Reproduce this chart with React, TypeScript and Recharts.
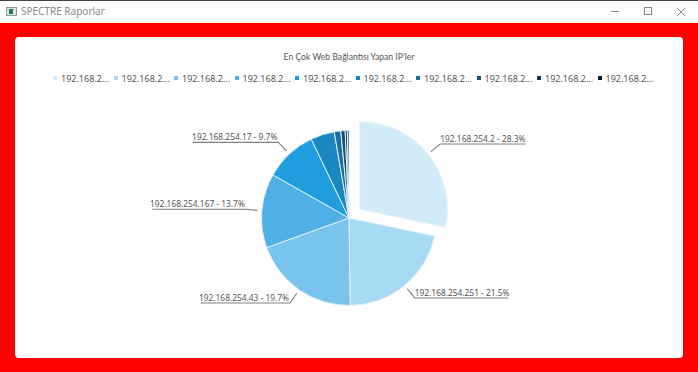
import { Legend, Pie, PieChart, Sector } from "recharts";

const hosts = [
  "192.168.254.2",
  "192.168.254.251",
  "192.168.254.43",
  "192.168.254.167",
  "192.168.254.17",
  "192.168.254.10",
  "192.168.254.25",
  "192.168.254.30",
  "192.168.254.54",
  "192.168.254.71",
];
const shares = [28.3, 21.5, 19.7, 13.7, 9.7, 4.4, 1.2, 0.8, 0.4, 0.3];
const colors = [
  "#d2ebf9",
  "#a6d9f3",
  "#79c4ec",
  "#4fb0e5",
  "#1f9edf",
  "#1b87c0",
  "#166f9f",
  "#105377",
  "#0b3a54",
  "#061c2c",
];

const FONT = "'Noto Sans', sans-serif";
const RAD = Math.PI / 180;
const EXPLODE = 14;

const data = hosts.map((name, i) => ({ name, value: shares[i], fill: colors[i] }));

// first slice is pulled out of the pie along its mid angle
function explodeOffset(index: number, midAngle: number) {
  if (index !== 0) return { dx: 0, dy: 0 };
  return {
    dx: EXPLODE * Math.cos(midAngle * RAD),
    dy: -EXPLODE * Math.sin(midAngle * RAD),
  };
}

function SliceShape(props: any) {
  const { dx, dy } = explodeOffset(props.index, props.midAngle);
  return (
    <Sector
      {...props}
      cx={props.cx + dx}
      cy={props.cy + dy}
      stroke="#e4f2fa"
      strokeWidth={1}
    />
  );
}

function SliceLabel(props: any) {
  const { cx, cy, midAngle, outerRadius, index, name, value } = props;
  // small slices have no label
  if (index > 4) return null;

  const { dx, dy } = explodeOffset(index, midAngle);
  const cos = Math.cos(midAngle * RAD);
  const sin = Math.sin(midAngle * RAD);
  const x1 = cx + dx + (outerRadius + 4) * cos;
  const y1 = cy + dy - (outerRadius + 4) * sin;
  const x2 = cx + dx + (outerRadius + 16) * cos;
  const y2 = cy + dy - (outerRadius + 16) * sin;

  const text = `${name} - ${value}%`;
  const width = text.length * 4.07;
  const right = cos >= 0;
  const x3 = right ? x2 + width : x2 - width;

  return (
    <g>
      <path
        d={`M${x1},${y1} L${x2},${y2} L${x3},${y2}`}
        fill="none"
        stroke="#808080"
        strokeWidth={1.1}
      />
      <text
        x={x2 + (right ? 0 : -1)}
        y={y2 - 2}
        textAnchor={right ? "start" : "end"}
        fontFamily={FONT}
        fontSize={8.4}
        fill="#555"
      >
        {text}
      </text>
    </g>
  );
}

function LegendRow({ payload }: any) {
  return (
    <div style={{ position: "relative", height: 14 }}>
      {(payload || []).map((item: any, i: number) => (
        <div
          key={item.value}
          style={{
            position: "absolute",
            left: i * 60.5,
            top: 0,
            display: "flex",
            alignItems: "center",
            height: 14,
            fontFamily: FONT,
            fontSize: 9,
            color: "#555",
            whiteSpace: "nowrap",
          }}
        >
          <span
            style={{
              width: 4,
              height: 4,
              background: item.color,
              marginRight: 4,
            }}
          />
          {item.value.slice(0, 9)}...
        </div>
      ))}
    </div>
  );
}

function TitleBar() {
  return (
    <div
      style={{
        position: "absolute",
        left: 0,
        top: 0,
        width: 698,
        height: 23,
        background: "#fff",
        borderTop: "1px solid #444",
        boxSizing: "border-box",
      }}
    >
      <svg width={698} height={22} style={{ position: "absolute", left: 0, top: 0 }}>
        <rect x={6.5} y={6.5} width={10} height={8} fill="#dfe6e6" stroke="#8a9a9a" />
        <rect x={9} y={8} width={4} height={5} fill="#2f6f5f" />
        <line x1={611} y1={10.5} x2={619} y2={10.5} stroke="#888" />
        <rect x={644.5} y={6.5} width={7} height={7} fill="none" stroke="#888" />
        <path d="M677,7 L685,15 M685,7 L677,15" stroke="#888" fill="none" />
      </svg>
      <div
        style={{
          position: "absolute",
          left: 21,
          top: 3,
          fontFamily: FONT,
          fontSize: 10,
          color: "#888",
        }}
      >
        SPECTRE Raporlar
      </div>
    </div>
  );
}

export default function App() {
  return (
    <div
      style={{
        position: "fixed",
        left: 0,
        top: 0,
        width: 698,
        height: 372,
        background: "#ff0000",
        overflow: "hidden",
      }}
    >
      <TitleBar />
      <div
        style={{
          position: "absolute",
          left: 15,
          top: 37,
          width: 668,
          height: 321,
          background: "#fff",
          borderRadius: 4,
        }}
      />
      <div
        style={{
          position: "absolute",
          left: 0,
          top: 52,
          width: 698,
          textAlign: "center",
          fontFamily: "Lato, sans-serif",
          fontSize: 8.6,
          color: "#555",
        }}
      >
        En Çok Web Bağlantısı Yapan IP'ler
      </div>
      <div style={{ position: "absolute", left: 0, top: 0 }}>
        <PieChart
          width={698}
          height={372}
          margin={{ top: 0, right: 0, bottom: 0, left: 0 }}
        >
          <Legend
            verticalAlign="top"
            itemSorter={null}
            content={<LegendRow />}
            wrapperStyle={{ position: "absolute", left: 53, top: 71, width: 620 }}
          />
          <Pie
            data={data}
            dataKey="value"
            nameKey="name"
            cx={349}
            cy={204}
            outerRadius={87.5}
            startAngle={90}
            endAngle={-270}
            shape={SliceShape}
            label={SliceLabel}
            labelLine={false}
            isAnimationActive={false}
          />
        </PieChart>
      </div>
    </div>
  );
}
